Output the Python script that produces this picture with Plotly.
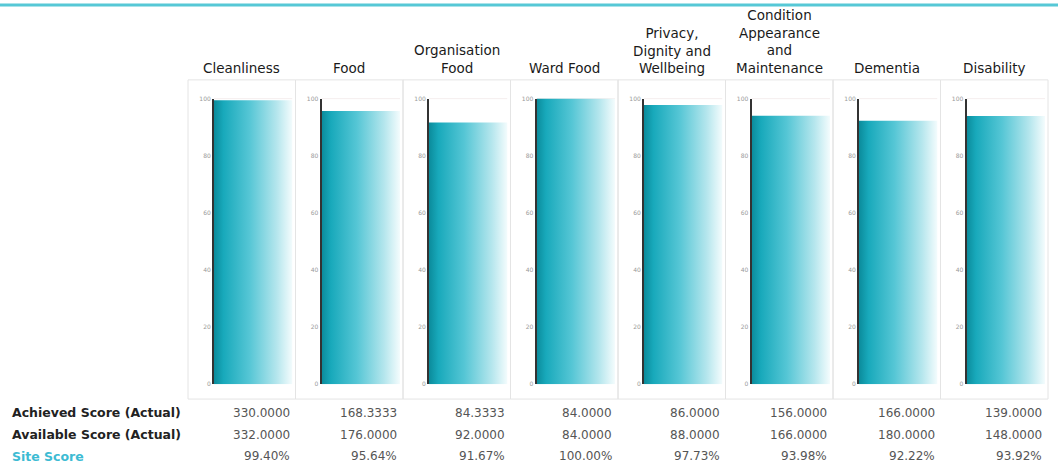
import plotly.graph_objects as go

# Categories and scores
categories = [
    "Cleanliness", "Food", "Organisation<br>Food", "Ward Food",
    "Privacy,<br>Dignity and<br>Wellbeing",
    "Condition<br>Appearance<br>and<br>Maintenance",
    "Dementia", "Disability",
]
achieved = [330.0, 168.3333, 84.3333, 84.0, 86.0, 156.0, 166.0, 139.0]
available = [332.0, 176.0, 92.0, 84.0, 88.0, 166.0, 180.0, 148.0]
site_score = [99.40, 95.64, 91.67, 100.00, 97.73, 93.98, 92.22, 93.92]
y_ticks = [0, 20, 40, 60, 80, 100]
row_labels = ["Achieved Score (Actual)", "Available Score (Actual)", "Site Score"]

W, H = 1058, 473
FONT = "DejaVu Sans"


def fx(px):
    return px / W


def fy(py):
    return 1 - py / H


panel_left0 = 188.0
panel_w = 107.5
panel_top, panel_bottom = 77, 401
plot_top, plot_bottom = 96, 386
row_y = [415, 437, 459]

bar_scale = [
    [0.0, "#0b8b9b"],
    [0.12, "#18a9bb"],
    [0.45, "#55c6d5"],
    [0.8, "#b5e6ed"],
    [1.0, "#f4fcfd"],
]

fig = go.Figure()
layout = dict(
    width=W, height=H,
    margin=dict(l=0, r=0, t=0, b=0),
    paper_bgcolor="white", plot_bgcolor="white",
    showlegend=False,
    font=dict(family=FONT, color="#222"),
)
shapes = []
annotations = []

for i, (cat, score) in enumerate(zip(categories, site_score)):
    L = panel_left0 + i * panel_w
    R = L + panel_w
    sfx = "" if i == 0 else str(i + 1)
    xa, ya = "x" + sfx, "y" + sfx

    # gradient-filled bar drawn as a filled polygon
    fig.add_trace(go.Scatter(
        x=[0, 0, 1, 1, 0], y=[0, score, score, 0, 0],
        xaxis=xa, yaxis=ya,
        mode="lines", line=dict(width=0),
        fill="toself",
        fillgradient=dict(type="horizontal", colorscale=bar_scale),
        hoverinfo="skip",
    ))

    layout["xaxis" + sfx] = dict(
        domain=[fx(L + 26), fx(R - 3)], range=[0, 1],
        visible=False, anchor=ya, fixedrange=True,
    )
    layout["yaxis" + sfx] = dict(
        domain=[fy(plot_bottom), fy(plot_top)], range=[0, 100],
        anchor=xa, showgrid=False, zeroline=False,
        showline=True, linecolor="#333", linewidth=2,
        tickvals=y_ticks, ticks="",
        tickfont=dict(size=6, color="#999", family=FONT),
        fixedrange=True,
    )

    # light reference line at the top of the scale
    shapes.append(dict(
        type="line", xref=xa, yref=ya, x0=0, x1=1, y0=100, y1=100,
        line=dict(color="#ecdede", width=1), layer="below",
    ))

    # panel frame
    shapes.append(dict(
        type="rect", xref="paper", yref="paper",
        x0=fx(L), x1=fx(R), y0=fy(panel_bottom), y1=fy(panel_top),
        line=dict(color="#e4e4e4", width=1), layer="below",
    ))

    # panel title
    annotations.append(dict(
        xref="paper", yref="paper", x=fx((L + R) / 2), y=fy(75),
        xanchor="center", yanchor="bottom", showarrow=False,
        text=cat, align="center",
        font=dict(size=13.5, color="#1a1a1a", family=FONT),
    ))

    # table values under each panel
    values = [f"{achieved[i]:.4f}", f"{available[i]:.4f}", f"{score:.2f}%"]
    for val, ry in zip(values, row_y):
        annotations.append(dict(
            xref="paper", yref="paper", x=fx(R - 4), y=fy(ry),
            xanchor="right", yanchor="middle", showarrow=False,
            text=val, font=dict(size=12, color="#555", family=FONT),
        ))

# table row labels
for r, (lab, ry) in enumerate(zip(row_labels, row_y)):
    color = "#3dbbd3" if r == 2 else "#222"
    annotations.append(dict(
        xref="paper", yref="paper", x=fx(10), y=fy(ry),
        xanchor="left", yanchor="middle", showarrow=False,
        text=f"<b>{lab}</b>", font=dict(size=12.5, color=color, family=FONT),
    ))

# cyan rule across the top
shapes.append(dict(
    type="line", xref="paper", yref="paper", x0=0, x1=1,
    y0=fy(1), y1=fy(1), line=dict(color="#56c8d6", width=3),
))

layout["shapes"] = shapes
layout["annotations"] = annotations
fig.update_layout(**layout)
fig.write_html("out.html")
